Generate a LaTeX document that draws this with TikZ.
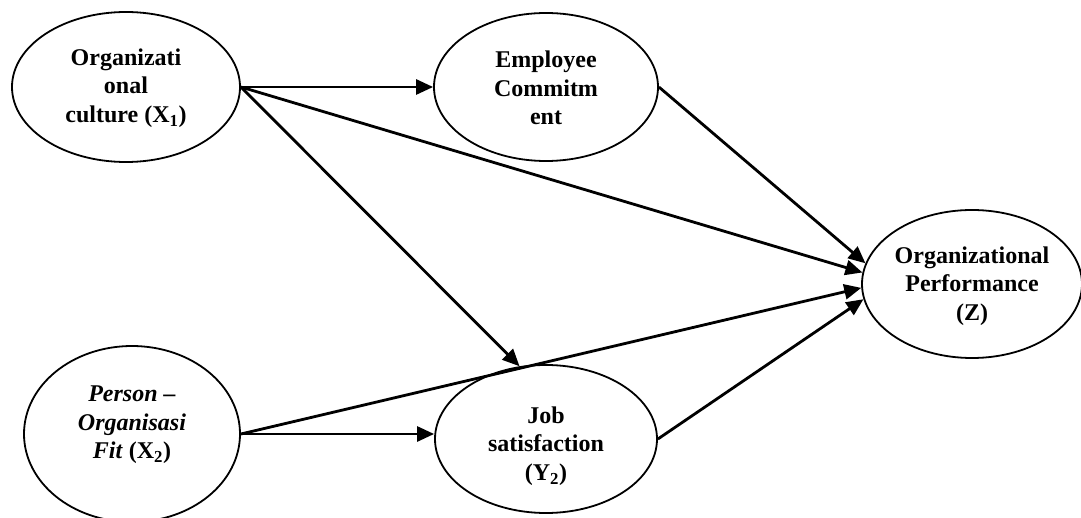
\documentclass[tikz,border=0pt]{standalone}
\usepackage{fontspec}
\setmainfont{Liberation Serif}
\usetikzlibrary{shapes.geometric,arrows.meta}
\tikzset{
  construct/.style={ellipse, draw, line width=1.8pt, inner sep=0pt},
  ctext/.style={inner sep=0pt, align=center, font=\fontsize{24}{28.5}\selectfont\bfseries},
  path/.style={line width=2.8pt, -{Triangle[length=17pt,width=15pt]}}
}
\begin{document}
\begin{tikzpicture}[x=1pt,y=1pt]
\useasboundingbox (0,0) rectangle (1081,517);
\node[construct, minimum width=228pt, minimum height=150pt] (oc) at (126,430) {};
\node[ctext] (oct) at ([yshift=-1pt]oc.center) {Organizati\\onal\\culture (X\textsubscript{1})};
\node[construct, minimum width=224pt, minimum height=148pt] (ec) at (546,430) {};
\node[ctext] (ect) at ([yshift=-1pt]ec.center) {Employee\\Commitm\\ent};
\node[construct, minimum width=220pt, minimum height=148pt] (op) at (972,233) {};
\node[ctext] (opt) at ([yshift=-2pt]op.center) {Organizational\\Performance\\(Z)};
\node[construct, minimum width=216pt, minimum height=176pt] (pf) at (132,83) {};
\node[ctext] (pft) at ([yshift=9pt]pf.center) {\textit{Person –}\\\textit{Organisasi}\\\textit{Fit} (X\textsubscript{2})};
\node[construct, minimum width=222pt, minimum height=148pt] (js) at (546,78) {};
\node[ctext] (jst) at ([yshift=-7pt]js.center) {Job\\satisfaction\\(Y\textsubscript{2})};
\draw[path] (oc.east) -- (oc.east -| ec.west);
\draw[path] (oc.east) -- (op.174);
\draw[path] (oc.east) -- (js.110);
\draw[path] (ec.east) -- (op.169);
\draw[path] (pf.east) -- (pf.east -| js.west);
\draw[path] (pf.east) -- (op.-178);
\draw[path] (js.east) -- (op.-172);
\end{tikzpicture}
\end{document}
